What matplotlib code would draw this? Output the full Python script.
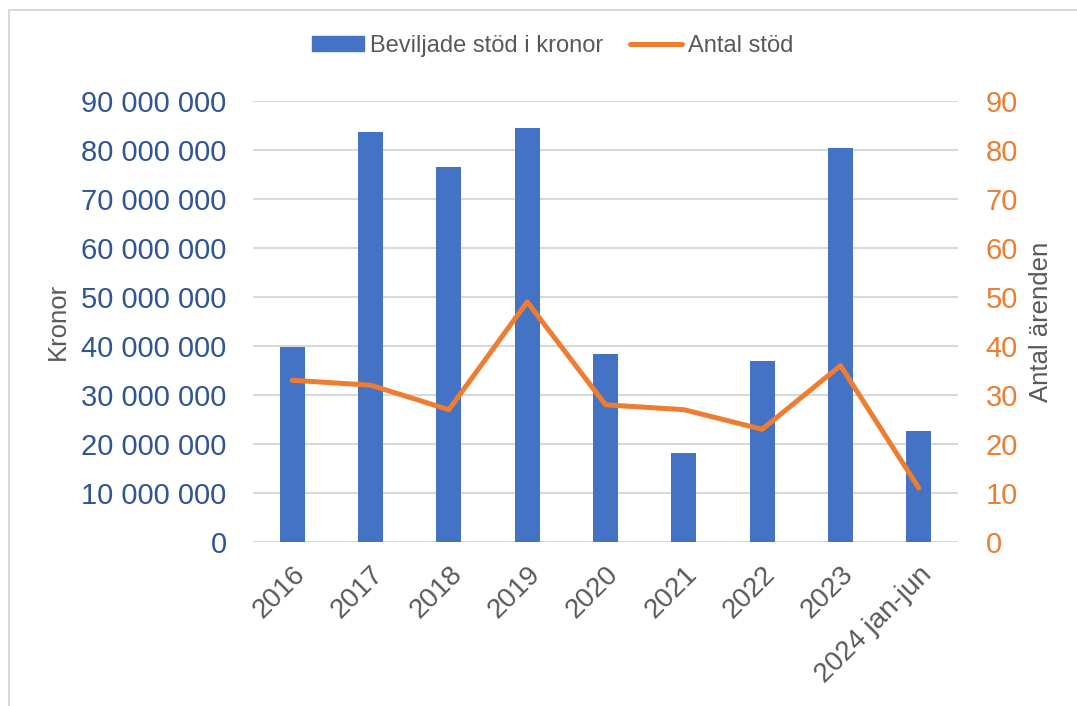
import matplotlib.pyplot as plt
import matplotlib.patches as mpatches
from matplotlib.lines import Line2D
from matplotlib.ticker import FuncFormatter

plt.rcParams['font.family'] = ['Liberation Sans', 'DejaVu Sans']

# data
years = ["2016", "2017", "2018", "2019", "2020", "2021", "2022", "2023", "2024 jan-jun"]
kronor = [39.7e6, 83.6e6, 76.5e6, 84.4e6, 38.3e6, 18.2e6, 36.9e6, 80.5e6, 22.7e6]
antal = [33, 32, 27, 49, 28, 27, 23, 36, 11]

blue = "#4472C4"
orange = "#ED7D31"
grey = "#595959"

fig = plt.figure(figsize=(10.77, 7.06), dpi=100)
ax = fig.add_axes([0.2350, 0.2323, 0.6545, 0.6247])
ax2 = ax.twinx()

x = range(len(years))
ax.bar(x, kronor, width=0.32, color=blue, zorder=3)
ax2.plot(x, antal, color=orange, linewidth=3.6, solid_capstyle="round", zorder=4)

ax.set_xlim(-0.5, len(years) - 0.5)
ax.set_ylim(0, 90e6)
ax2.set_ylim(0, 90)
ax.set_yticks([i * 10e6 for i in range(10)])
ax2.set_yticks(range(0, 91, 10))
ax.yaxis.set_major_formatter(FuncFormatter(lambda v, p: f"{int(v):,}".replace(",", " ")))

ax.grid(axis="y", color="#D9D9D9", linewidth=1.5, zorder=0)
ax.set_axisbelow(True)
for a in (ax, ax2):
    for s in a.spines.values():
        s.set_visible(False)
    a.tick_params(length=0)

ax.set_xticks(list(x))
ax.set_xticklabels(years, rotation=45, ha="right", rotation_mode="anchor", color=grey, fontsize=20)
ax.tick_params(axis="x", pad=14)
ax.tick_params(axis="y", labelcolor="#2F5597", labelsize=21, pad=19)
ax2.tick_params(axis="y", labelcolor=orange, labelsize=21, pad=20)

ax.set_ylabel("Kronor", color=grey, fontsize=18.5, labelpad=8)
ax2.set_ylabel("Antal ärenden", color=grey, fontsize=18.5, labelpad=8)

handles = [mpatches.Patch(color=blue, label="Beviljade stöd i kronor"),
           Line2D([], [], color=orange, linewidth=3.6, solid_capstyle="round", label="Antal stöd")]
fig.legend(handles=handles, loc="center", bbox_to_anchor=(0.513, 0.935), ncol=2,
           frameon=False, fontsize=17, labelcolor=grey, handlelength=2.2, handleheight=0.55,
           handletextpad=0.25, columnspacing=1.15)

# light frame around the chart
fig.patches.append(mpatches.Rectangle((9 / 1077, -0.05), 1.2, 1 - 10 / 706 + 0.05,
                                      transform=fig.transFigure, fill=False,
                                      edgecolor="#D9D9D9", linewidth=1.5))

fig.savefig("out.png", dpi=100)
